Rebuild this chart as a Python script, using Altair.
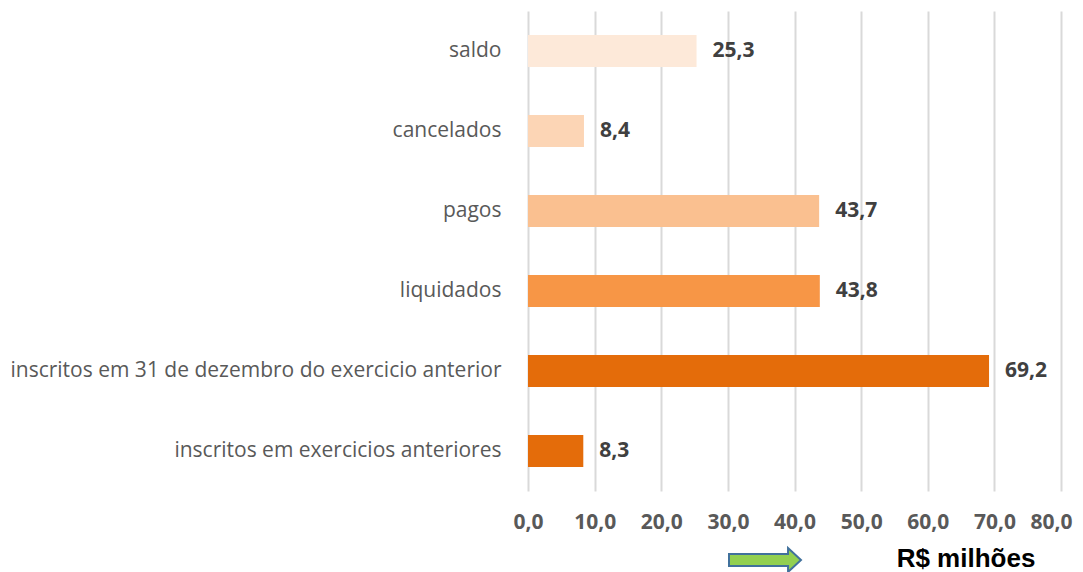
import altair as alt
import pandas as pd

categories = [
    "saldo",
    "cancelados",
    "pagos",
    "liquidados",
    "inscritos em 31 de dezembro do exercicio anterior",
    "inscritos em exercicios anteriores",
]
values = [25.3, 8.4, 43.7, 43.8, 69.2, 8.3]
colors = ["#FDE9D9", "#FCD5B5", "#FAC090", "#F79646", "#E46C0A", "#E46C0A"]
x_ticks = [0, 10, 20, 30, 40, 50, 60, 70, 80]
unit_label = "R$ milhões"

df = pd.DataFrame({
    "cat": categories,
    "val": values,
    "color": colors,
    "label": [f"{v:.1f}".replace(".", ",") for v in values],
})

FONT = "Open Sans"

x_enc = alt.X(
    "val:Q",
    scale=alt.Scale(domain=[0, 80], nice=False),
    axis=alt.Axis(
        values=x_ticks,
        labelExpr="replace(format(datum.value, '.1f'), '.', ',')",
        title=None,
        domain=False,
        ticks=False,
        grid=True,
        gridColor="#D9D9D9",
        gridWidth=2,
        labelFont=FONT,
        labelFontSize=21,
        labelFontWeight="bold",
        labelColor="#595959",
        labelPadding=20,
        labelFlush=False,
        labelOffset={"condition": {"test": "datum.value == 80", "value": -10}, "value": 0},
    ),
)
y_enc = alt.Y(
    "cat:N",
    sort=categories,
    scale=alt.Scale(paddingInner=0.6, paddingOuter=0.3),
    axis=alt.Axis(
        title=None,
        domain=False,
        ticks=False,
        grid=False,
        labelFont=FONT,
        labelFontSize=21,
        labelColor="#595959",
        labelPadding=27,
        labelLimit=600,
    ),
)

bars = alt.Chart(df).mark_bar(size=32).encode(
    x=x_enc,
    y=y_enc,
    color=alt.Color("color:N", scale=None),
)

text = alt.Chart(df).mark_text(
    align="left", baseline="middle", dx=16, font=FONT, fontSize=21,
    fontWeight="bold", color="#404040",
).encode(
    x="val:Q",
    y=alt.Y("cat:N", sort=categories),
    text="label:N",
)

arrow_df = pd.DataFrame({"k": ["arrow"]})
arrow = alt.Chart(arrow_df).mark_point(
    shape="M-1,-0.167L0.64,-0.167L0.64,-0.333L1,0L0.64,0.333L0.64,0.167L-1,0.167Z",
    size=5184,
    filled=True,
    fill="#92D050",
    stroke="#41719C",
    strokeWidth=2,
    opacity=1,
).encode(x=alt.value(237), y=alt.value(549))

unit_df = pd.DataFrame({"t": [unit_label]})
unit = alt.Chart(unit_df).mark_text(
    font="Liberation Sans", fontSize=26, fontWeight="bold", color="#000000",
    align="center", baseline="alphabetic",
).encode(x=alt.value(438), y=alt.value(556), text="t:N")

chart = alt.layer(bars, text, arrow, unit).properties(
    width=533,
    height=480,
    background="white",
    padding={"left": 520, "top": 3, "right": 14, "bottom": 90},
    autosize=alt.AutoSizeParams(type="none"),
).configure_view(stroke=None)

chart.save("out.html", embed_options={"renderer": "svg", "actions": False})
